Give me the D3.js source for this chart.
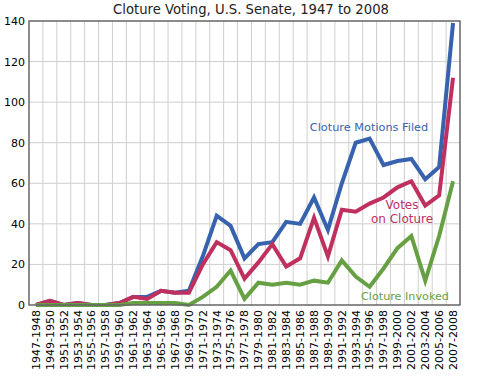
<!DOCTYPE html>
<html>
<head>
<meta charset="utf-8">
<script src="https://cdn.jsdelivr.net/npm/d3@7"></script>
<style>
  body { margin: 0; background: #fff; }
  text { font-family: "DejaVu Sans", sans-serif; }
</style>
</head>
<body>
<script>
// congresses, 80th to 110th
const congresses = [
  "1947-1948", "1949-1950", "1951-1952", "1953-1954", "1955-1956", "1957-1958",
  "1959-1960", "1961-1962", "1963-1964", "1965-1966", "1967-1968", "1969-1970",
  "1971-1972", "1973-1974", "1975-1976", "1977-1978", "1979-1980", "1981-1982",
  "1983-1984", "1985-1986", "1987-1988", "1989-1990", "1991-1992", "1993-1994",
  "1995-1996", "1997-1998", "1999-2000", "2001-2002", "2003-2004", "2005-2006",
  "2007-2008"
];
const motionsFiled = [0, 2, 0, 1, 0, 0, 1, 4, 4, 7, 6, 7, 24, 44, 39, 23, 30, 31,
  41, 40, 53, 37, 60, 80, 82, 69, 71, 72, 62, 68, 139];
const votesOnCloture = [0, 2, 0, 1, 0, 0, 1, 4, 3, 7, 6, 6, 20, 31, 27, 13, 21, 30,
  19, 23, 43, 24, 47, 46, 50, 53, 58, 61, 49, 54, 112];
const clotureInvoked = [0, 0, 0, 0, 0, 0, 0, 1, 1, 1, 1, 0, 4, 9, 17, 3, 11, 10,
  11, 10, 12, 11, 22, 14, 9, 18, 28, 34, 12, 34, 61];
const yTicks = [0, 20, 40, 60, 80, 100, 120, 140];

const W = 480, H = 380;
const margin = { top: 21, right: 20, bottom: 75, left: 29 },
  width = W - margin.left - margin.right,
  height = H - margin.top - margin.bottom;

const svg = d3.select("body").append("svg")
  .attr("width", W).attr("height", H);

// title
svg.append("text")
  .attr("x", 251).attr("y", 14)
  .attr("text-anchor", "middle")
  .style("font-size", "13.2px")
  .attr("fill", "#222")
  .text("Cloture Voting, U.S. Senate, 1947 to 2008");

const g = svg.append("g")
  .attr("transform", `translate(${margin.left},${margin.top})`);

const x = d3.scaleBand().domain(congresses).range([0, width]).padding(0);
const y = d3.scaleLinear().domain([0, 140]).range([height, 0]);
const cx = (d) => x(d) + x.bandwidth() / 2;

// grid: vertical lines between congresses
g.append("g").selectAll("line")
  .data(congresses.slice(1))
  .join("line")
  .attr("x1", (d) => x(d)).attr("x2", (d) => x(d))
  .attr("y1", 0).attr("y2", height)
  .attr("stroke", "#cfcfcf").attr("stroke-width", 1);

g.append("g").selectAll("line")
  .data(yTicks.slice(1, -1))
  .join("line")
  .attr("x1", 0).attr("x2", width)
  .attr("y1", (d) => y(d)).attr("y2", (d) => y(d))
  .attr("stroke", "#cfcfcf").attr("stroke-width", 1);

// axes
const yAxis = g.append("g")
  .call(d3.axisLeft(y).tickValues(yTicks).tickSize(0).tickPadding(4));
yAxis.select(".domain").remove();
yAxis.selectAll("text").style("font-size", "11px").attr("fill", "#000");

const xAxis = g.append("g")
  .attr("transform", `translate(0,${height})`)
  .call(d3.axisBottom(x).tickSize(0));
xAxis.select(".domain").remove();
xAxis.selectAll("text")
  .style("font-size", "11px").attr("fill", "#000")
  .attr("transform", "rotate(-90)")
  .attr("text-anchor", "end")
  .attr("x", -5).attr("y", 0).attr("dy", "0.35em");

// series
const series = [
  { name: "clotureInvoked", values: clotureInvoked, color: "#66a043" },
  { name: "votesOnCloture", values: votesOnCloture, color: "#c0305f" },
  { name: "motionsFiled", values: motionsFiled, color: "#3762ae" }
];
const line = d3.line()
  .x((d, i) => cx(congresses[i]))
  .y((d) => y(d));

// blue first, then red, then green on top like the reference
[series[2], series[1], series[0]].forEach((s) => {
  g.append("path")
    .datum(s.values)
    .attr("fill", "none")
    .attr("stroke", s.color)
    .attr("stroke-width", 4)
    .attr("stroke-linejoin", "miter")
    .attr("d", line);
});

// frame
g.append("rect")
  .attr("x", 0).attr("y", 0)
  .attr("width", width).attr("height", height)
  .attr("fill", "none").attr("stroke", "#666").attr("stroke-width", 1.5);

// labels
const labels = [
  { lines: ["Cloture Motions Filed"], x: 369, y: 131, size: 11.3, color: "#3762ae" },
  { lines: ["Votes", "on Cloture"], x: 402, y: 209, size: 12, color: "#c0305f" },
  { lines: ["Cloture Invoked"], x: 405, y: 300, size: 11.2, color: "#66a043" }
];
labels.forEach((l) => {
  const t = svg.append("text")
    .attr("x", l.x).attr("y", l.y)
    .attr("text-anchor", "middle")
    .style("font-size", l.size + "px")
    .attr("fill", l.color);
  l.lines.forEach((s, i) => {
    t.append("tspan").attr("x", l.x).attr("dy", i ? 14 : 0).text(s);
  });
});
</script>
</body>
</html>
